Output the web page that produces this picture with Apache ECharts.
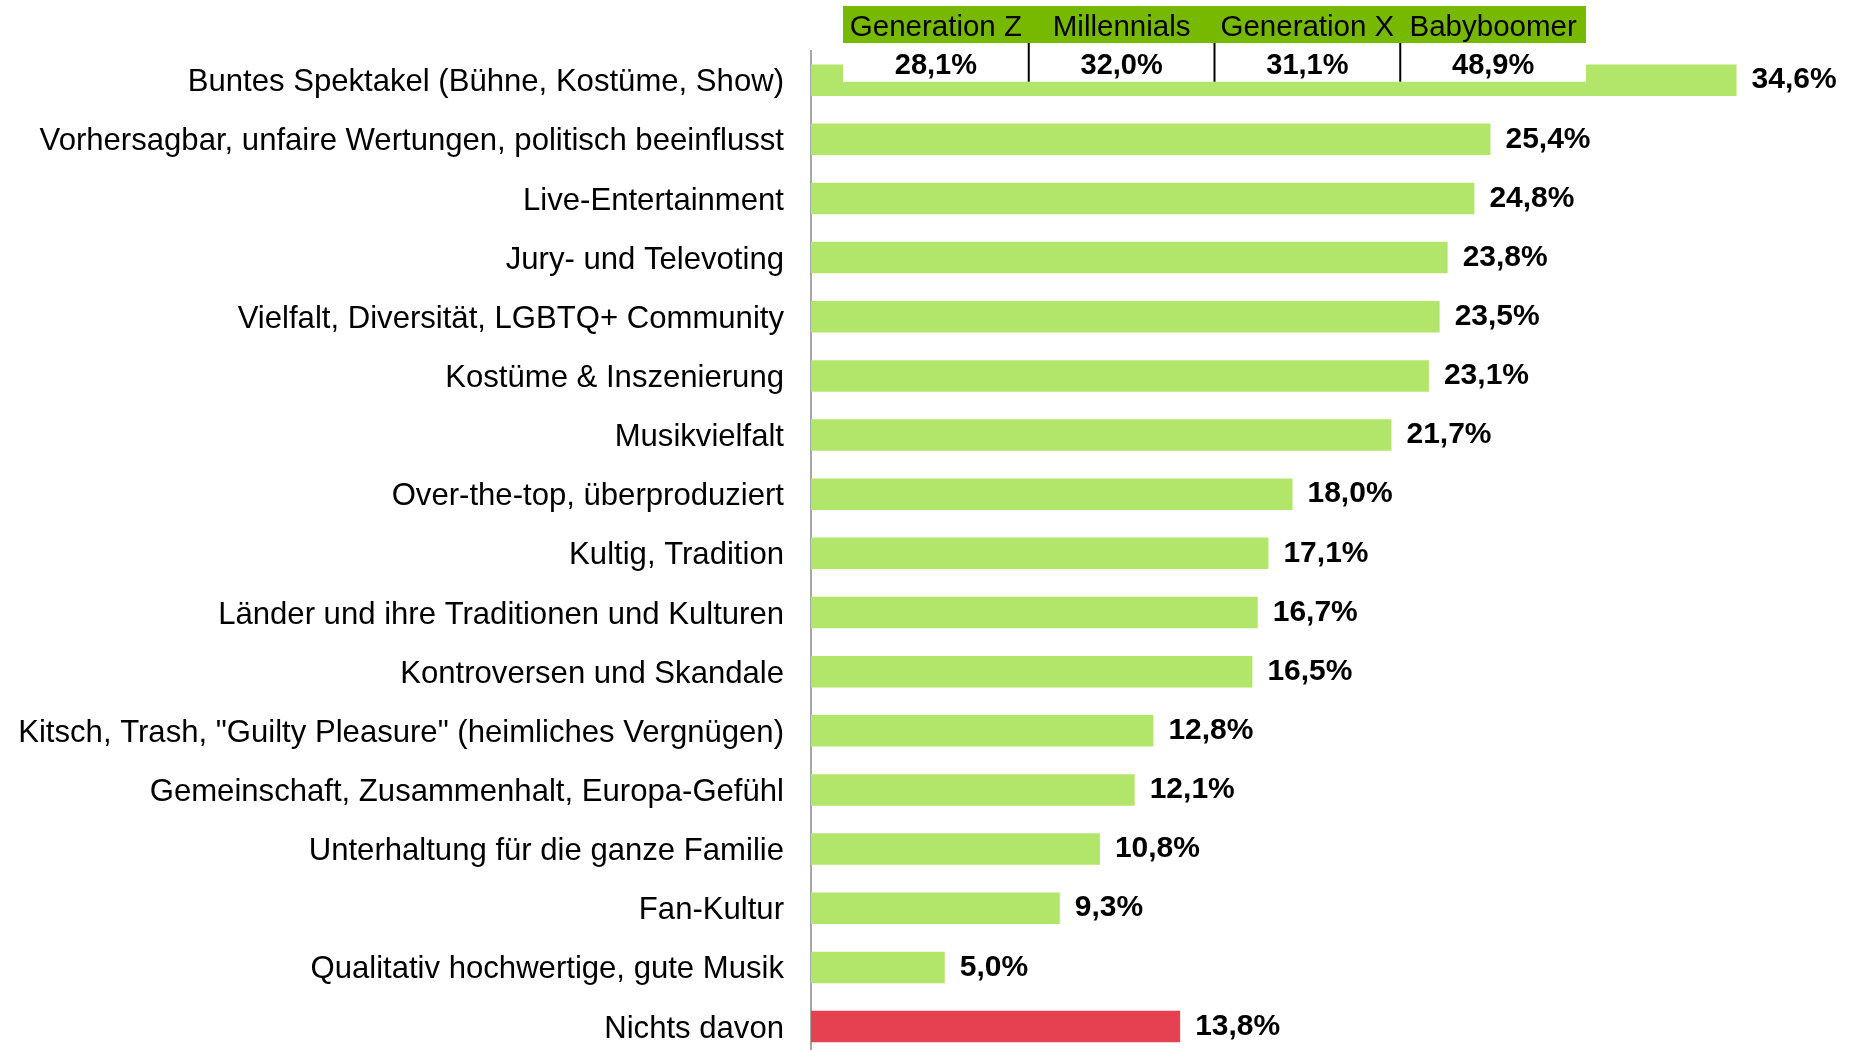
<!DOCTYPE html>
<html>
<head>
<meta charset="utf-8">
<script src="https://cdn.jsdelivr.net/npm/echarts@6/dist/echarts.min.js"></script>
<style>
html,body{margin:0;padding:0;background:#fff;}
#chart{width:1850px;height:1050px;}
</style>
</head>
<body>
<div id="chart"></div>
<script>
const categories = [
  'Buntes Spektakel (Bühne, Kostüme, Show)',
  'Vorhersagbar, unfaire Wertungen, politisch beeinflusst',
  'Live-Entertainment',
  'Jury- und Televoting',
  'Vielfalt, Diversität, LGBTQ+ Community',
  'Kostüme & Inszenierung',
  'Musikvielfalt',
  'Over-the-top, überproduziert',
  'Kultig, Tradition',
  'Länder und ihre Traditionen und Kulturen',
  'Kontroversen und Skandale',
  'Kitsch, Trash, "Guilty Pleasure" (heimliches Vergnügen)',
  'Gemeinschaft, Zusammenhalt, Europa-Gefühl',
  'Unterhaltung für die ganze Familie',
  'Fan-Kultur',
  'Qualitativ hochwertige, gute Musik',
  'Nichts davon'
];
const values = [34.6, 25.4, 24.8, 23.8, 23.5, 23.1, 21.7, 18.0, 17.1, 16.7, 16.5, 12.8, 12.1, 10.8, 9.3, 5.0, 13.8];
const highlightCategory = 'Nichts davon';

const generations = ['Generation Z', 'Millennials', 'Generation X', 'Babyboomer'];
const generationValues = [28.1, 32.0, 31.1, 48.9];

const GREEN = '#b2e66a';
const RED = '#e54150';
const HEAD_GREEN = '#76b900';

function fmt(v) { return v.toFixed(1).replace('.', ',') + '%'; }

const chart = echarts.init(document.getElementById('chart'), null, {renderer: 'canvas'});

// table geometry (annotation box over the first bar)
const tblX = 843, tblW = 743, headY = 6, headH = 37, valH = 38.7;
const colW = tblW / generations.length;
const graphics = [];
graphics.push({type: 'rect', shape: {x: tblX, y: headY, width: tblW, height: headH}, style: {fill: HEAD_GREEN}, z: 100});
graphics.push({type: 'rect', shape: {x: tblX, y: headY + headH, width: tblW, height: valH}, style: {fill: '#fff'}, z: 100});
generations.forEach((g, i) => {
  const cx = tblX + colW * (i + 0.5);
  graphics.push({type: 'text', x: cx, y: headY + headH / 2 + 3, style: {text: g, fill: '#000', font: '29.5px "Liberation Sans", Arial, sans-serif', textAlign: 'center', textVerticalAlign: 'middle'}, z: 101});
  graphics.push({type: 'text', x: cx, y: headY + headH + valH / 2 + 4, style: {text: fmt(generationValues[i]), fill: '#000', font: 'bold 29px "Liberation Sans", Arial, sans-serif', textAlign: 'center', textVerticalAlign: 'middle'}, z: 101});
  if (i > 0) {
    const sx = tblX + colW * i;
    graphics.push({type: 'line', shape: {x1: sx, y1: headY + headH, x2: sx, y2: headY + headH + valH}, style: {stroke: '#000', lineWidth: 2}, z: 101});
  }
});

chart.setOption({
  backgroundColor: '#fff',
  animation: false,
  grid: {left: 811, top: 50.6, width: 1070, height: 1005.5, containLabel: false, outerBoundsMode: 'none'},
  xAxis: {type: 'value', min: 0, max: 40, show: false},
  yAxis: {
    type: 'category',
    data: categories,
    inverse: true,
    axisLine: {show: true, lineStyle: {color: '#8a8a8a', width: 1.5}},
    axisTick: {show: false},
    splitLine: {show: false},
    axisLabel: {
      margin: 27,
      formatter: v => '{c|' + v + '}',
      rich: {c: {fontSize: 31.1, color: '#000', padding: [5, 0, 0, 0], fontFamily: '"Liberation Sans", Arial, sans-serif'}}
    }
  },
  series: [{
    type: 'bar',
    barWidth: 31.5,
    data: values.map((v, i) => ({value: v, itemStyle: {color: categories[i] === highlightCategory ? RED : GREEN}})),
    label: {
      show: true,
      position: 'right',
      distance: 15,
      padding: [3, 0, 0, 0],
      formatter: p => fmt(p.value),
      fontSize: 30,
      fontWeight: 'bold',
      color: '#000',
      fontFamily: '"Liberation Sans", Arial, sans-serif'
    }
  }],
  graphic: graphics
});
</script>
</body>
</html>
